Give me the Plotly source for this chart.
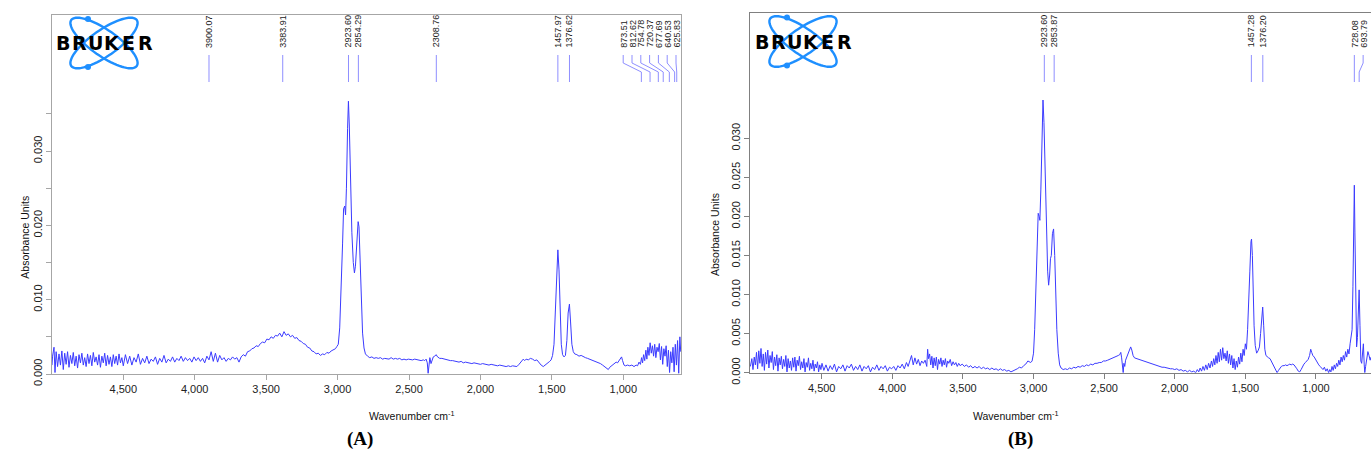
import math
import plotly.graph_objects as go

W, H = 1371, 467

# ---------------- data ----------------
# Panel A spectrum: (wavenumber cm-1, absorbance)
spectrum_a = [
    (4999, 0.0012), (4995, 0.0024), (4985, 0.0036), (4978, 0.0002), (4970, 0.0030), (4960, 0.0010),
    (4950, 0.0027), (4940, 0.0012), (4930, 0.0031), (4920, 0.0006), (4910, 0.0028), (4900, 0.0013),
    (4890, 0.0030), (4880, 0.0009), (4870, 0.0025), (4860, 0.0014), (4850, 0.0029), (4840, 0.0011),
    (4830, 0.0024), (4820, 0.0008), (4810, 0.0026), (4800, 0.0015), (4790, 0.0028), (4780, 0.0012),
    (4770, 0.0022), (4760, 0.0010), (4750, 0.0027), (4740, 0.0014), (4730, 0.0025), (4720, 0.0011),
    (4710, 0.0029), (4700, 0.0016), (4690, 0.0023), (4680, 0.0012), (4670, 0.0026), (4660, 0.0009),
    (4650, 0.0024), (4640, 0.0015), (4630, 0.0028), (4620, 0.0011), (4610, 0.0025), (4600, 0.0013),
    (4590, 0.0023), (4580, 0.0010), (4570, 0.0026), (4560, 0.0014), (4550, 0.0024), (4540, 0.0012),
    (4530, 0.0027), (4520, 0.0015), (4510, 0.0022), (4500, 0.0011), (4485, 0.0026), (4470, 0.0014),
    (4455, 0.0024), (4440, 0.0012), (4425, 0.0022), (4410, 0.0016), (4395, 0.0027), (4380, 0.0013),
    (4365, 0.0021), (4350, 0.0015), (4335, 0.0024), (4320, 0.0014), (4305, 0.0020), (4290, 0.0017),
    (4275, 0.0023), (4260, 0.0013), (4245, 0.0021), (4230, 0.0016), (4215, 0.0025), (4200, 0.0015),
    (4185, 0.0020), (4170, 0.0017), (4155, 0.0023), (4140, 0.0016), (4125, 0.0021), (4110, 0.0018),
    (4095, 0.0024), (4080, 0.0017), (4065, 0.0022), (4050, 0.0018), (4035, 0.0021), (4020, 0.0016),
    (4005, 0.0023), (3990, 0.0018), (3975, 0.0022), (3960, 0.0017), (3945, 0.0021), (3930, 0.0015),
    (3915, 0.0024), (3900, 0.0019), (3885, 0.0030), (3870, 0.0017), (3855, 0.0028), (3840, 0.0016),
    (3825, 0.0025), (3810, 0.0019), (3795, 0.0022), (3780, 0.0017), (3765, 0.0021), (3750, 0.0019),
    (3735, 0.0023), (3720, 0.0020), (3705, 0.0022), (3690, 0.0016), (3675, 0.0023), (3660, 0.0026),
    (3645, 0.0024), (3630, 0.0030), (3615, 0.0031), (3600, 0.0034), (3585, 0.0035), (3570, 0.0038),
    (3555, 0.0037), (3540, 0.0041), (3525, 0.0043), (3510, 0.0042), (3495, 0.0047), (3480, 0.0046),
    (3465, 0.0050), (3450, 0.0048), (3435, 0.0052), (3420, 0.0051), (3405, 0.0055), (3390, 0.0050),
    (3375, 0.0057), (3360, 0.0052), (3345, 0.0054), (3330, 0.0050), (3315, 0.0052), (3300, 0.0048),
    (3285, 0.0049), (3270, 0.0045), (3255, 0.0044), (3240, 0.0041), (3225, 0.0040), (3210, 0.0036),
    (3195, 0.0035), (3180, 0.0031), (3165, 0.0030), (3150, 0.0027), (3135, 0.0028), (3120, 0.0025),
    (3105, 0.0027), (3090, 0.0026), (3075, 0.0029), (3060, 0.0028), (3045, 0.0031), (3030, 0.0032),
    (3015, 0.0034), (3005, 0.0037), (2995, 0.0040), (2985, 0.0062), (2975, 0.0110), (2965, 0.0175),
    (2958, 0.0222), (2950, 0.0226), (2944, 0.0214), (2938, 0.0250), (2930, 0.0330), (2924, 0.0367),
    (2918, 0.0335), (2910, 0.0265), (2900, 0.0190), (2890, 0.0150), (2882, 0.0136), (2875, 0.0145),
    (2866, 0.0180), (2856, 0.0205), (2850, 0.0198), (2842, 0.0150), (2835, 0.0100), (2825, 0.0055),
    (2815, 0.0035), (2805, 0.0027), (2790, 0.0024), (2775, 0.0022), (2760, 0.0023), (2745, 0.0021),
    (2730, 0.0022), (2715, 0.0021), (2700, 0.0022), (2685, 0.0020), (2670, 0.0021), (2655, 0.0021),
    (2640, 0.0020), (2625, 0.0022), (2610, 0.0020), (2595, 0.0021), (2580, 0.0020), (2565, 0.0021),
    (2550, 0.0019), (2535, 0.0020), (2520, 0.0019), (2505, 0.0020), (2490, 0.0019), (2475, 0.0019),
    (2460, 0.0020), (2445, 0.0019), (2430, 0.0019), (2415, 0.0018), (2400, 0.0019), (2390, 0.0018),
    (2380, 0.0020), (2372, 0.0015), (2366, 0.0001), (2360, 0.0012), (2354, 0.0022), (2346, 0.0014),
    (2338, 0.0020), (2330, 0.0023), (2320, 0.0024), (2310, 0.0026), (2300, 0.0023), (2285, 0.0021),
    (2270, 0.0021), (2255, 0.0020), (2240, 0.0019), (2225, 0.0019), (2210, 0.0018), (2195, 0.0018),
    (2180, 0.0017), (2165, 0.0017), (2150, 0.0016), (2135, 0.0017), (2120, 0.0015), (2105, 0.0016),
    (2090, 0.0015), (2075, 0.0015), (2060, 0.0014), (2045, 0.0015), (2030, 0.0014), (2015, 0.0014),
    (2000, 0.0013), (1985, 0.0014), (1970, 0.0013), (1955, 0.0013), (1940, 0.0012), (1925, 0.0013),
    (1910, 0.0012), (1895, 0.0012), (1880, 0.0011), (1865, 0.0012), (1850, 0.0011), (1835, 0.0011),
    (1820, 0.0010), (1805, 0.0011), (1790, 0.0010), (1775, 0.0011), (1760, 0.0010), (1745, 0.0010),
    (1730, 0.0013), (1715, 0.0017), (1700, 0.0020), (1690, 0.0018), (1680, 0.0020), (1665, 0.0019),
    (1650, 0.0021), (1635, 0.0020), (1620, 0.0018), (1605, 0.0019), (1590, 0.0015), (1575, 0.0012),
    (1560, 0.0010), (1545, 0.0012), (1530, 0.0014), (1515, 0.0017), (1505, 0.0019), (1495, 0.0025),
    (1485, 0.0040), (1475, 0.0090), (1466, 0.0150), (1458, 0.0167), (1450, 0.0140), (1442, 0.0075),
    (1434, 0.0040), (1425, 0.0026), (1415, 0.0023), (1405, 0.0025), (1395, 0.0045), (1386, 0.0082),
    (1377, 0.0094), (1369, 0.0070), (1360, 0.0040), (1350, 0.0030), (1340, 0.0027), (1325, 0.0026),
    (1310, 0.0024), (1295, 0.0025), (1280, 0.0023), (1265, 0.0022), (1250, 0.0021), (1235, 0.0020),
    (1220, 0.0019), (1205, 0.0018), (1190, 0.0017), (1175, 0.0016), (1160, 0.0014), (1145, 0.0012),
    (1130, 0.0010), (1115, 0.0007), (1105, 0.0006), (1095, 0.0009), (1080, 0.0011), (1065, 0.0013),
    (1050, 0.0016), (1040, 0.0015), (1030, 0.0018), (1020, 0.0021), (1012, 0.0023), (1005, 0.0018),
    (995, 0.0012), (985, 0.0011), (970, 0.0012), (955, 0.0011), (940, 0.0012), (925, 0.0010),
    (910, 0.0012), (900, 0.0011), (890, 0.0016), (880, 0.0013), (872, 0.0022), (865, 0.0015),
    (858, 0.0026), (850, 0.0018), (842, 0.0032), (835, 0.0020), (828, 0.0036), (820, 0.0025),
    (812, 0.0042), (804, 0.0028), (796, 0.0038), (788, 0.0024), (780, 0.0040), (772, 0.0022),
    (764, 0.0036), (756, 0.0030), (748, 0.0041), (740, 0.0019), (732, 0.0037), (724, 0.0013),
    (716, 0.0034), (708, 0.0024), (700, 0.0038), (692, 0.0010), (684, 0.0032), (676, 0.0002),
    (668, 0.0030), (660, 0.0015), (652, 0.0036), (644, 0.0003), (636, 0.0040), (628, 0.0012),
    (620, 0.0045), (612, 0.0001), (604, 0.0050), (598, 0.0030),
]

# Panel B spectrum: (wavenumber cm-1, absorbance)
spectrum_b = [
    (5005, 0.0008), (4995, 0.0018), (4987, 0.0004), (4978, 0.0020), (4970, 0.0010), (4962, 0.0026),
    (4954, 0.0005), (4946, 0.0028), (4938, 0.0012), (4930, 0.0031), (4922, 0.0008), (4914, 0.0024),
    (4906, 0.0003), (4898, 0.0026), (4890, 0.0011), (4882, 0.0029), (4874, 0.0006), (4866, 0.0022),
    (4858, 0.0013), (4850, 0.0027), (4842, 0.0004), (4834, 0.0020), (4826, 0.0009), (4818, 0.0023),
    (4810, 0.0002), (4802, 0.0019), (4794, 0.0010), (4786, 0.0021), (4778, 0.0005), (4770, 0.0017),
    (4762, 0.0008), (4754, 0.0022), (4746, 0.0001), (4738, 0.0018), (4730, 0.0006), (4722, 0.0015),
    (4714, 0.0003), (4706, 0.0019), (4698, 0.0007), (4690, 0.0020), (4682, 0.0002), (4674, 0.0016),
    (4666, 0.0009), (4658, 0.0021), (4650, 0.0004), (4642, 0.0014), (4634, 0.0006), (4626, 0.0018),
    (4618, 0.0001), (4610, 0.0013), (4602, 0.0007), (4594, 0.0019), (4586, 0.0003), (4578, 0.0012),
    (4570, 0.0005), (4562, 0.0016), (4554, 0.0002), (4546, 0.0011), (4538, 0.0006), (4530, 0.0014),
    (4522, 0.0001), (4514, 0.0010), (4506, 0.0004), (4498, 0.0012), (4485, 0.0003), (4470, 0.0010),
    (4455, 0.0002), (4440, 0.0009), (4425, 0.0004), (4410, 0.0011), (4395, 0.0001), (4380, 0.0008),
    (4365, 0.0005), (4350, 0.0010), (4335, 0.0002), (4320, 0.0009), (4305, 0.0006), (4290, 0.0011),
    (4275, 0.0003), (4260, 0.0008), (4245, 0.0004), (4230, 0.0010), (4215, 0.0002), (4200, 0.0008),
    (4185, 0.0005), (4170, 0.0009), (4155, 0.0001), (4140, 0.0007), (4125, 0.0004), (4110, 0.0010),
    (4095, 0.0003), (4080, 0.0008), (4065, 0.0005), (4050, 0.0009), (4035, 0.0002), (4020, 0.0007),
    (4005, 0.0005), (3990, 0.0008), (3975, 0.0003), (3960, 0.0009), (3945, 0.0006), (3930, 0.0011),
    (3915, 0.0005), (3900, 0.0013), (3888, 0.0008), (3876, 0.0016), (3864, 0.0022), (3852, 0.0010),
    (3840, 0.0019), (3828, 0.0011), (3816, 0.0017), (3804, 0.0009), (3792, 0.0015), (3780, 0.0012),
    (3768, 0.0016), (3756, 0.0008), (3750, 0.0030), (3744, 0.0018), (3736, 0.0024), (3728, 0.0010),
    (3720, 0.0021), (3712, 0.0006), (3704, 0.0019), (3696, 0.0009), (3688, 0.0020), (3680, 0.0004),
    (3672, 0.0017), (3664, 0.0011), (3656, 0.0019), (3648, 0.0008), (3640, 0.0016), (3632, 0.0010),
    (3624, 0.0018), (3616, 0.0007), (3608, 0.0015), (3600, 0.0012), (3590, 0.0017), (3580, 0.0009),
    (3570, 0.0014), (3560, 0.0010), (3550, 0.0013), (3540, 0.0008), (3530, 0.0012), (3520, 0.0009),
    (3505, 0.0011), (3490, 0.0008), (3475, 0.0010), (3460, 0.0007), (3445, 0.0009), (3430, 0.0006),
    (3415, 0.0008), (3400, 0.0006), (3385, 0.0008), (3370, 0.0005), (3355, 0.0007), (3340, 0.0005),
    (3325, 0.0006), (3310, 0.0004), (3295, 0.0006), (3280, 0.0004), (3265, 0.0005), (3250, 0.0003),
    (3235, 0.0005), (3220, 0.0003), (3205, 0.0004), (3190, 0.0002), (3175, 0.0003), (3160, 0.0001),
    (3145, 0.0002), (3130, 0.0004), (3115, 0.0005), (3100, 0.0007), (3085, 0.0006), (3070, 0.0009),
    (3055, 0.0011), (3040, 0.0015), (3030, 0.0014), (3020, 0.0013), (3010, 0.0015), (3000, 0.0025),
    (2992, 0.0055), (2984, 0.0110), (2975, 0.0170), (2967, 0.0204), (2960, 0.0200), (2955, 0.0195),
    (2948, 0.0235), (2940, 0.0310), (2933, 0.0349), (2926, 0.0320), (2918, 0.0250), (2910, 0.0180),
    (2900, 0.0130), (2893, 0.0112), (2886, 0.0125), (2880, 0.0146), (2874, 0.0150), (2866, 0.0178),
    (2858, 0.0184), (2850, 0.0150), (2843, 0.0097), (2835, 0.0055), (2825, 0.0025), (2815, 0.0010),
    (2805, 0.0006), (2790, 0.0004), (2775, 0.0005), (2760, 0.0004), (2745, 0.0006), (2730, 0.0005),
    (2715, 0.0007), (2700, 0.0006), (2685, 0.0008), (2670, 0.0007), (2655, 0.0009), (2640, 0.0008),
    (2625, 0.0010), (2610, 0.0009), (2595, 0.0011), (2580, 0.0010), (2565, 0.0012), (2550, 0.0012),
    (2535, 0.0013), (2520, 0.0013), (2505, 0.0015), (2490, 0.0015), (2475, 0.0016), (2460, 0.0017),
    (2445, 0.0018), (2430, 0.0019), (2415, 0.0020), (2400, 0.0022), (2390, 0.0023), (2382, 0.0026),
    (2376, 0.0019), (2370, 0.0008), (2365, 0.0000), (2360, 0.0012), (2354, 0.0008), (2348, 0.0016),
    (2340, 0.0020), (2330, 0.0026), (2320, 0.0031), (2312, 0.0033), (2304, 0.0029), (2295, 0.0022),
    (2285, 0.0019), (2270, 0.0018), (2255, 0.0017), (2240, 0.0016), (2225, 0.0015), (2210, 0.0014),
    (2195, 0.0013), (2180, 0.0012), (2165, 0.0011), (2150, 0.0010), (2135, 0.0009), (2120, 0.0009),
    (2105, 0.0008), (2090, 0.0007), (2075, 0.0007), (2060, 0.0006), (2045, 0.0006), (2030, 0.0005),
    (2015, 0.0005), (2000, 0.0004), (1985, 0.0005), (1970, 0.0003), (1955, 0.0004), (1940, 0.0002),
    (1925, 0.0003), (1910, 0.0001), (1895, 0.0003), (1880, 0.0001), (1865, 0.0002), (1852, 0.0000),
    (1840, 0.0004), (1830, 0.0001), (1820, 0.0006), (1810, 0.0002), (1800, 0.0008), (1790, 0.0003),
    (1780, 0.0010), (1770, 0.0004), (1760, 0.0012), (1750, 0.0006), (1740, 0.0015), (1732, 0.0008),
    (1724, 0.0018), (1716, 0.0010), (1708, 0.0022), (1700, 0.0012), (1692, 0.0026), (1684, 0.0014),
    (1676, 0.0030), (1668, 0.0016), (1660, 0.0032), (1652, 0.0018), (1644, 0.0025), (1636, 0.0015),
    (1628, 0.0028), (1620, 0.0012), (1612, 0.0024), (1604, 0.0010), (1596, 0.0022), (1588, 0.0006),
    (1580, 0.0018), (1572, 0.0004), (1564, 0.0015), (1556, 0.0007), (1548, 0.0020), (1540, 0.0011),
    (1532, 0.0025), (1524, 0.0014), (1516, 0.0030), (1508, 0.0022), (1500, 0.0037), (1492, 0.0030),
    (1484, 0.0055), (1476, 0.0085), (1468, 0.0130), (1460, 0.0168), (1456, 0.0171), (1450, 0.0150),
    (1444, 0.0095), (1438, 0.0060), (1430, 0.0035), (1420, 0.0025), (1410, 0.0028), (1400, 0.0033),
    (1392, 0.0050), (1384, 0.0075), (1377, 0.0084), (1370, 0.0060), (1362, 0.0030), (1354, 0.0022),
    (1345, 0.0020), (1335, 0.0019), (1325, 0.0018), (1315, 0.0014), (1305, 0.0010), (1295, 0.0006),
    (1285, 0.0003), (1275, 0.0000), (1265, 0.0003), (1255, 0.0006), (1245, 0.0008), (1235, 0.0009),
    (1225, 0.0009), (1215, 0.0010), (1205, 0.0009), (1195, 0.0010), (1185, 0.0011), (1175, 0.0010),
    (1165, 0.0011), (1155, 0.0010), (1145, 0.0008), (1135, 0.0005), (1125, 0.0002), (1115, 0.0001),
    (1105, 0.0004), (1095, 0.0008), (1085, 0.0011), (1075, 0.0013), (1065, 0.0015), (1055, 0.0017),
    (1045, 0.0022), (1037, 0.0030), (1030, 0.0026), (1022, 0.0022), (1012, 0.0020), (1000, 0.0016),
    (990, 0.0012), (980, 0.0010), (970, 0.0008), (960, 0.0006), (950, 0.0004), (940, 0.0007),
    (930, 0.0002), (920, 0.0005), (910, 0.0000), (902, 0.0004), (894, 0.0001), (886, 0.0008),
    (878, 0.0003), (870, 0.0010), (862, 0.0005), (854, 0.0012), (846, 0.0008), (838, 0.0016),
    (830, 0.0010), (822, 0.0020), (814, 0.0014), (806, 0.0022), (798, 0.0016), (790, 0.0027),
    (782, 0.0020), (774, 0.0030), (766, 0.0024), (758, 0.0037), (750, 0.0045), (744, 0.0055),
    (738, 0.0110), (732, 0.0200), (728, 0.0240), (724, 0.0180), (718, 0.0060), (712, 0.0033),
    (706, 0.0045), (700, 0.0085), (694, 0.0106), (688, 0.0060), (682, 0.0015), (676, 0.0012),
    (670, 0.0030), (664, 0.0037), (658, 0.0010), (654, 0.0000), (648, 0.0008), (640, 0.0020),
    (632, 0.0027), (624, 0.0022), (616, 0.0016), (610, 0.0020),
]

wn_a = [p[0] for p in spectrum_a]
abs_a = [p[1] for p in spectrum_a]
wn_b = [p[0] for p in spectrum_b]
abs_b = [p[1] for p in spectrum_b]

peaks_a = [3900.07, 3383.91, 2923.60, 2854.29, 2308.76, 1457.97, 1376.62,
           873.51, 812.62, 754.78, 720.37, 677.69, 640.53, 625.83]
peak_labels_a = ["3900.07", "3383.91", "2923.60", "2854.29", "2308.76", "1457.97", "1376.62",
                 "873.51", "812.62", "754.78", "720.37", "677.69", "640.53", "625.83"]
peaks_b = [2923.60, 2853.87, 1457.28, 1376.20, 728.08, 693.79]
peak_labels_b = ["2923.60", "2853.87", "1457.28", "1376.20", "728.08", "693.79"]

xtick_vals = [4500, 4000, 3500, 3000, 2500, 2000, 1500, 1000]
xtick_text = ["4,500", "4,000", "3,500", "3,000", "2,500", "2,000", "1,500", "1,000"]
ytick_vals_a = [0.000, 0.010, 0.020, 0.030]
ytick_text_a = ["0.000", "0.010", "0.020", "0.030"]
yminor_vals_a = [0.005, 0.015, 0.025, 0.035]
ytick_vals_b = [0.000, 0.005, 0.010, 0.015, 0.020, 0.025, 0.030]
ytick_text_b = ["0.000", "0.005", "0.010", "0.015", "0.020", "0.025", "0.030"]
yminor_vals_b = []

# ---------------- layout helpers ----------------
def pxx(px):
    return px / W


def pxy(py):
    return 1 - py / H


SPEC_COLOR = "#3b3bff"
PEAK_LINE = "#8f8fff"
LOGO_BLUE = "#1e8fff"
FONT = "Liberation Sans"

panels = [
    dict(suffix="", wn=wn_a, ab=abs_a, x0=52, x1=681, top=15, bot=374,
         xr=[4999, 596], yr=[0, 0.0483], ytv=ytick_vals_a, ytt=ytick_text_a, ymv=yminor_vals_a,
         peaks=peaks_a, labels=peak_labels_a, frame="#a6a6a6",
         logo=(104, 43), ytitle=(16.7, 237), cap="(A)", cap_x=345),
    dict(suffix="2", wn=wn_b, ab=abs_b, x0=750, x1=1371, top=13.3, bot=372.7,
         xr=[5008, 610], yr=[0, 0.0460], ytv=ytick_vals_b, ytt=ytick_text_b, ymv=yminor_vals_b,
         peaks=peaks_b, labels=peak_labels_b, frame="#808080",
         logo=(803, 41.5), ytitle=(715, 235), cap="(B)", cap_x=1035),
]

fig = go.Figure()
shapes = []
annotations = []
layout_axes = {}

for p in panels:
    xa = "x" + p["suffix"]
    ya = "y" + p["suffix"]
    xkey = "xaxis" + p["suffix"]
    ykey = "yaxis" + p["suffix"]

    fig.add_trace(go.Scatter(x=p["wn"], y=p["ab"], mode="lines", xaxis=xa, yaxis=ya,
                             line=dict(color=SPEC_COLOR, width=1), showlegend=False,
                             hoverinfo="skip"))

    layout_axes[xkey] = dict(
        domain=[pxx(p["x0"]), min(1.0, pxx(p["x1"]))], range=p["xr"], anchor=ya,
        showline=True, mirror=True, linecolor=p["frame"], linewidth=1,
        ticks="outside", ticklen=5, tickcolor=p["frame"], tickvals=xtick_vals,
        ticktext=xtick_text, showgrid=False, zeroline=False,
        tickfont=dict(family=FONT, size=11, color="#222"), automargin=False,
    )
    yax = dict(
        domain=[pxy(p["bot"]), pxy(p["top"])], range=p["yr"], anchor=xa,
        showline=True, mirror=True, linecolor=p["frame"], linewidth=1,
        ticks="outside", ticklen=5, tickcolor=p["frame"], tickvals=p["ytv"],
        ticktext=p["ytt"], tickangle=-90, showgrid=False, zeroline=False,
        tickfont=dict(family=FONT, size=11, color="#222"), automargin=False,
    )
    if p["ymv"]:
        yax["minor"] = dict(tickmode="array", tickvals=p["ymv"], ticks="outside", ticklen=5,
                            tickcolor=p["frame"], showgrid=False)
    layout_axes[ykey] = yax

    # ---- peak labels, spread so they do not overlap ----
    span_px = p["x1"] - p["x0"]
    span_d = p["xr"][0] - p["xr"][1]

    def to_px(v, p=p, span_px=span_px, span_d=span_d):
        return p["x0"] + (p["xr"][0] - v) / span_d * span_px

    def to_d(px, p=p, span_px=span_px, span_d=span_d):
        return p["xr"][0] - (px - p["x0"]) / span_px * span_d

    gap = 8.8
    ppx = [to_px(v) for v in p["peaks"]]
    lab = []
    for i, v in enumerate(ppx):
        lab.append(v if i == 0 else max(v, lab[-1] + gap))
    limit = min(p["x1"] - 5, W - 6)
    for i in range(len(lab) - 1, -1, -1):
        cap_px = limit if i == len(lab) - 1 else lab[i + 1] - gap
        lab[i] = min(lab[i], cap_px)

    for v, lp, txt in zip(p["peaks"], lab, p["labels"]):
        ld = to_d(lp)
        path = (f"M {ld},{pxy(55)} L {ld},{pxy(63)} L {v},{pxy(72)} L {v},{pxy(82)}")
        shapes.append(dict(type="path", xref=xa, yref="paper", path=path,
                           line=dict(color=PEAK_LINE, width=1)))
        annotations.append(dict(x=ld, xref=xa, y=pxy(49.5), yref="paper", text=txt,
                                textangle=-90, showarrow=False, xanchor="center",
                                yanchor="bottom", font=dict(family=FONT, size=9, color="#222")))

    # ---- Bruker logo ----
    cx, cy = p["logo"]
    a_, b_ = 40, 13
    for ang in (35, -35):
        th = math.radians(ang)
        pts = []
        for k in range(73):
            t = 2 * math.pi * k / 72
            ex = a_ * math.cos(t)
            ey = b_ * math.sin(t)
            X = cx + ex * math.cos(th) - ey * math.sin(th)
            Y = cy + ex * math.sin(th) + ey * math.cos(th)
            pts.append(f"{pxx(X):.5f},{pxy(Y):.5f}")
        shapes.append(dict(type="path", xref="paper", yref="paper",
                           path="M " + " L ".join(pts) + " Z",
                           line=dict(color=LOGO_BLUE, width=2.4)))
    for dx, dy in ((-16, -24), (-16, 24)):
        r = 3
        shapes.append(dict(type="circle", xref="paper", yref="paper",
                           x0=pxx(cx + dx - r), x1=pxx(cx + dx + r),
                           y0=pxy(cy + dy + r), y1=pxy(cy + dy - r),
                           fillcolor=LOGO_BLUE, line=dict(color=LOGO_BLUE, width=0)))
    for i, ch in enumerate("BRUKER"):
        annotations.append(dict(x=pxx(cx - 41.5 + i * 16.6), y=pxy(cy), xref="paper", yref="paper",
                                text=f"<b>{ch}</b>", showarrow=False, xanchor="center",
                                yanchor="middle",
                                font=dict(family="DejaVu Sans", size=19, color="#000")))

    # ---- axis titles and caption ----
    annotations.append(dict(x=pxx((p["x0"] + p["x1"]) / 2), y=pxy(424), xref="paper", yref="paper",
                            text="Wavenumber cm<sup>-1</sup>", showarrow=False,
                            font=dict(family=FONT, size=10.5, color="#111")))
    annotations.append(dict(x=pxx(p["ytitle"][0]), y=pxy(p["ytitle"][1]), xref="paper",
                            yref="paper", text="Absorbance Units", textangle=-90,
                            showarrow=False, font=dict(family=FONT, size=10.5, color="#111")))
    annotations.append(dict(x=pxx(p["cap_x"]), y=pxy(452), xref="paper", yref="paper",
                            text=f"<b>{p['cap']}</b>", showarrow=False,
                            font=dict(family="Liberation Serif", size=19, color="#000")))

fig.update_layout(
    width=W, height=H, margin=dict(l=0, r=0, t=0, b=0),
    paper_bgcolor="white", plot_bgcolor="white", showlegend=False,
    shapes=shapes, annotations=annotations, **layout_axes,
)

fig.write_html("out.html", config={"displayModeBar": False},
               post_script="document.body.style.margin='0';document.body.style.overflow='hidden';")
